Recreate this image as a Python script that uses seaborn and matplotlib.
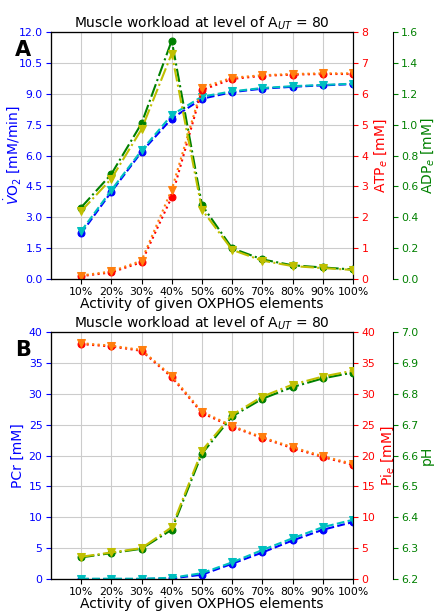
import numpy as np
import pandas as pd
import matplotlib
matplotlib.use("Agg")
import matplotlib.pyplot as plt
import seaborn as sns

activity = [10, 20, 30, 40, 50, 60, 70, 80, 90, 100]
xtick_labels = ["10%", "20%", "30%", "40%", "50%", "60%", "70%", "80%", "90%", "100%"]

# Panel A
vo2_a = [2.22, 4.24, 6.18, 7.80, 8.76, 9.08, 9.25, 9.34, 9.41, 9.47]
vo2_b = [2.33, 4.32, 6.25, 7.97, 8.86, 9.12, 9.28, 9.37, 9.43, 9.49]
atp_a = [0.10, 0.22, 0.55, 2.66, 6.12, 6.48, 6.58, 6.62, 6.64, 6.64]
atp_b = [0.12, 0.25, 0.60, 2.90, 6.20, 6.52, 6.60, 6.64, 6.66, 6.66]
adp_a = [0.464, 0.68, 1.008, 1.544, 0.48, 0.20, 0.128, 0.090, 0.076, 0.063]
adp_b = [0.44, 0.65, 0.97, 1.46, 0.45, 0.19, 0.12, 0.085, 0.072, 0.060]

# Panel B
pcr_a = [0.0, 0.0, 0.0, 0.1, 0.7, 2.48, 4.3, 6.25, 7.98, 9.23]
pcr_b = [0.05, 0.05, 0.05, 0.2, 0.95, 2.7, 4.7, 6.6, 8.4, 9.6]
pi_a = [38.06, 37.67, 36.97, 32.7, 26.9, 24.66, 22.83, 21.2, 19.75, 18.5]
pi_b = [38.2, 37.8, 37.1, 32.9, 27.1, 24.8, 22.95, 21.35, 19.9, 18.65]
ph_a = [6.270, 6.284, 6.298, 6.360, 6.606, 6.727, 6.784, 6.822, 6.850, 6.869]
ph_b = [6.272, 6.286, 6.300, 6.368, 6.616, 6.732, 6.791, 6.830, 6.856, 6.875]

title = "Muscle workload at level of A$_{UT}$ = 80"
xlabel = "Activity of given OXPHOS elements"

fig = plt.figure(figsize=(4.35, 6.15), dpi=100)
axA = fig.add_axes([0.117, 0.546, 0.6945, 0.402])
axB = fig.add_axes([0.117, 0.0585, 0.6945, 0.4015])

TICK = 7.8
LAB = 10


def panel(ax, letter, left, right, outer, llim, lticks, rlim, rticks, olim, oticks,
          llabel, rlabel, olabel, lfmt, ofmt, lx):
    ax2 = ax.twinx()
    ax3 = ax.twinx()
    ax3.spines["right"].set_position(("axes", 1.132))
    ms = 5
    for a, (d1, d2), c1, c2, ls in [
        (ax, left, "b", "c", "--"),
        (ax2, right, "r", "#ff7f0e", ":"),
        (ax3, outer, "g", "y", "-."),
    ]:
        sns.lineplot(x=activity, y=d1, ax=a, color=c1, linestyle=ls, marker="o",
                     markersize=ms, markeredgecolor=c1, linewidth=1.5)
        sns.lineplot(x=activity, y=d2, ax=a, color=c2, linestyle=ls, marker="v",
                     markersize=ms + 1, markeredgecolor=c2, linewidth=1.5)
    ax.set_xlim(0, 100)
    ax.set_xticks(activity)
    ax.set_xticklabels(xtick_labels, fontsize=TICK)
    ax.set_ylim(*llim)
    ax.set_yticks(lticks)
    ax.set_yticklabels([lfmt.format(v) for v in lticks])
    ax2.set_ylim(*rlim)
    ax2.set_yticks(rticks)
    ax3.set_ylim(*olim)
    ax3.set_yticks(oticks)
    ax3.set_yticklabels([ofmt.format(v) for v in oticks])
    ax.tick_params(axis="y", colors="b", labelsize=TICK, pad=2.5)
    ax.tick_params(axis="x", labelsize=TICK, pad=2)
    ax2.tick_params(axis="y", colors="r", labelsize=TICK, pad=2.5)
    ax3.tick_params(axis="y", colors="g", labelsize=TICK, pad=2.5)
    for a in (ax, ax2, ax3):
        for s in a.spines.values():
            s.set_color("black")
    ax.grid(True, color="#cccccc", linewidth=0.8)
    ax.set_axisbelow(True)
    ax.set_xlabel(xlabel, fontsize=LAB, labelpad=0)
    ax.set_ylabel(llabel, color="b", fontsize=LAB)
    ax.yaxis.set_label_coords(lx, 0.5)
    ax2.set_ylabel(rlabel, color="r", fontsize=LAB, labelpad=3)
    ax3.set_ylabel(olabel, color="g", fontsize=LAB)
    ax3.yaxis.set_label_coords(1.22, 0.5)
    ax.set_title(title, fontsize=LAB, pad=3)
    ax.text(-0.12, 0.927, letter, transform=ax.transAxes, fontsize=15,
            fontweight="bold", ha="left", va="center")


panel(axA, "A", (vo2_a, vo2_b), (atp_a, atp_b), (adp_a, adp_b),
      (0, 12), [0, 1.5, 3, 4.5, 6, 7.5, 9, 10.5, 12],
      (0, 8), [0, 1, 2, 3, 4, 5, 6, 7, 8],
      (0, 1.6), [0, 0.2, 0.4, 0.6, 0.8, 1.0, 1.2, 1.4, 1.6],
      "$\\dot{V}$O$_2$ [mM/min]", "ATP$_e$ [mM]", "ADP$_e$ [mM]", "{:.1f}", "{:.1f}",
      -0.093)

panel(axB, "B", (pcr_a, pcr_b), (pi_a, pi_b), (ph_a, ph_b),
      (0, 40), [0, 5, 10, 15, 20, 25, 30, 35, 40],
      (0, 40), [0, 5, 10, 15, 20, 25, 30, 35, 40],
      (6.2, 7.0), [6.2, 6.3, 6.4, 6.5, 6.6, 6.7, 6.8, 6.9, 7.0],
      "PCr [mM]", "Pi$_e$ [mM]", "pH", "{:g}", "{:.1f}",
      -0.085)

fig.savefig("out.png", dpi=100)
